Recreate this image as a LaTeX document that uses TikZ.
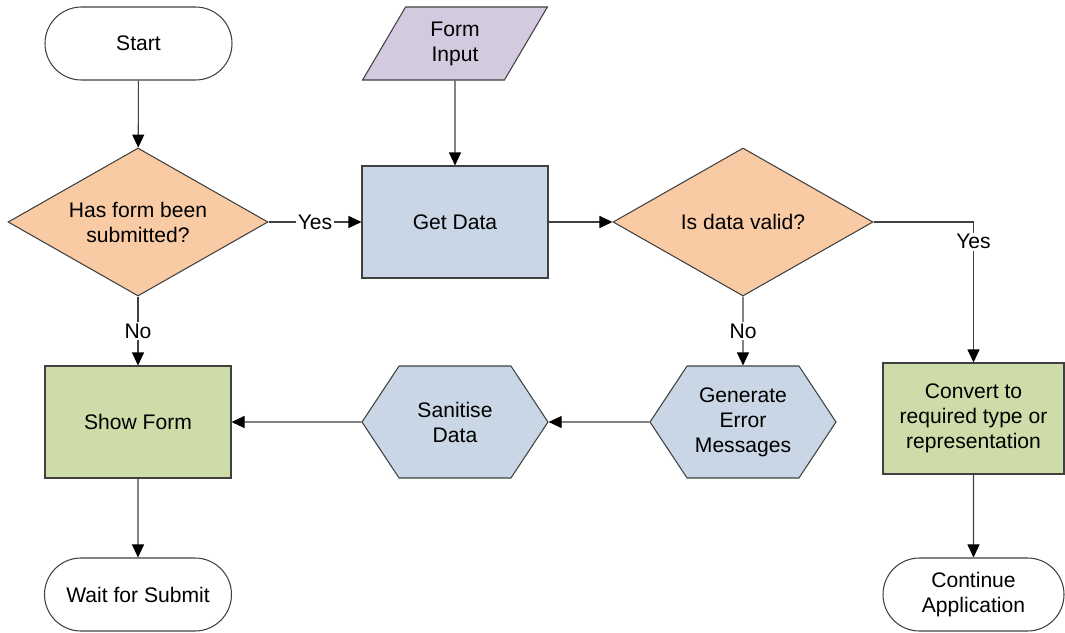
\documentclass[tikz,border=0pt]{standalone}
\usepackage{fontspec}
\setmainfont{Liberation Sans}
\usetikzlibrary{shapes.geometric,shapes.misc,shapes.symbols,arrows.meta}

\definecolor{decfill}{RGB}{249,203,164}
\definecolor{procfill}{RGB}{200,214,229}
\definecolor{showfill}{RGB}{205,220,168}
\definecolor{inputfill}{RGB}{211,202,223}
\definecolor{edgegray}{RGB}{64,64,64}

\tikzset{
  base/.style={draw=edgegray,line width=0.6pt,align=center,font=\fontsize{12}{14.2}\selectfont,inner sep=0pt},
  terminal/.style={base,rounded rectangle,minimum width=3.74cm,minimum height=1.46cm},
  decision/.style={base,diamond,aspect=1.76,minimum width=5.2cm,minimum height=2.96cm,fill=decfill},
  process/.style={base,rectangle,minimum width=3.72cm,minimum height=2.24cm},
  prep/.style={base,signal,signal to=east and west,signal pointer angle=113,minimum width=3.72cm,minimum height=2.24cm,fill=procfill},
  dataio/.style={base,trapezium,trapezium left angle=64,trapezium right angle=116,trapezium stretches=true,minimum width=3.7cm,minimum height=1.46cm,fill=inputfill},
  flow/.style={draw=edgegray,line width=0.6pt,-{Triangle[length=0.26cm,width=0.24cm,color=black]}},
  lbl/.style={fill=white,inner sep=1pt,font=\fontsize{12}{14.2}\selectfont}
}

\begin{document}
\begin{tikzpicture}

\useasboundingbox (0,0) rectangle (21.3,-12.64);

% top row
\node[terminal] (start) at (2.77,-0.87) {Start};
\node[dataio] (input) at (9.10,-0.87) {Form\\Input};

% decisions and data
\node[decision] (submitted) at (2.76,-4.44) {Has form been\\submitted?};
\node[process,fill=procfill] (getdata) at (9.10,-4.44) {Get Data};
\node[decision] (valid) at (14.86,-4.44) {Is data valid?};

% handling
\node[process,fill=showfill] (showform) at (2.76,-8.44) {Show Form};
\node[prep] (sanitise) at (9.10,-8.44) {Sanitise\\Data};
\node[prep] (errors) at (14.86,-8.44) {Generate\\Error\\Messages};
\node[process,fill=showfill,minimum width=3.62cm,minimum height=2.22cm] (convert) at (19.47,-8.37) {Convert to\\required type or\\representation};

% ends
\node[terminal] (wait) at (2.76,-11.89) {Wait for Submit};
\node[terminal,minimum width=3.62cm] (continue) at (19.47,-11.89) {Continue\\Application};

% connectors
\draw[flow] (start) -- (submitted);
\draw[flow] (input) -- (getdata);
\draw[flow] (submitted) -- node[lbl] {Yes} (getdata);
\draw[flow] (getdata) -- (valid);
\draw[flow] (valid.east) -| node[lbl,pos=0.57] {Yes} (convert.north);
\draw[flow] (valid) -- node[lbl] {No} (errors);
\draw[flow] (errors) -- (sanitise);
\draw[flow] (sanitise) -- (showform);
\draw[flow] (submitted) -- node[lbl] {No} (showform);
\draw[flow] (showform) -- (wait);
\draw[flow] (convert) -- (continue);

\end{tikzpicture}
\end{document}
